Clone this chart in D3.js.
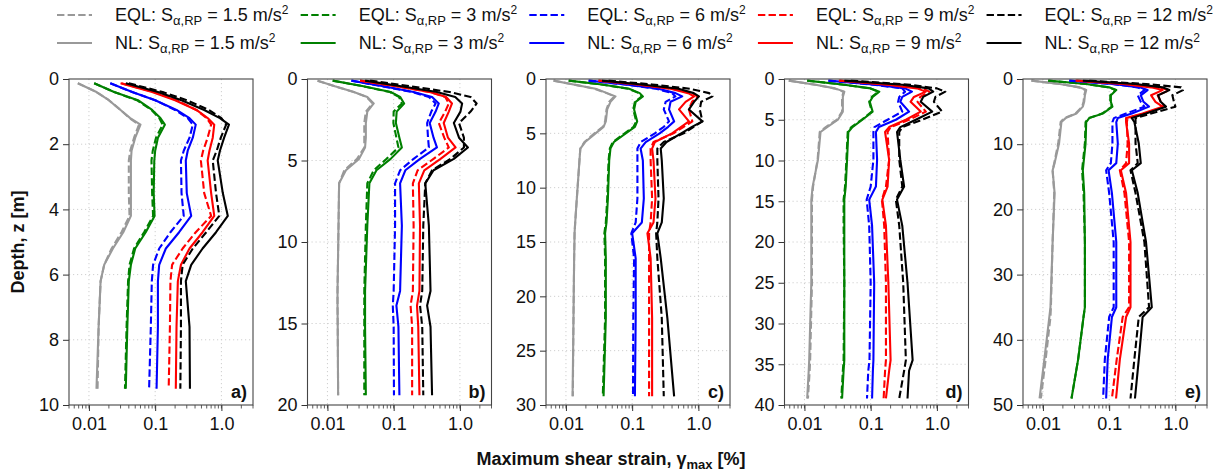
<!DOCTYPE html>
<html>
<head>
<meta charset="utf-8">
<script src="https://cdn.jsdelivr.net/npm/d3@7"></script>
<style>
  body { margin: 0; background: #fff; }
  text { font-family: "Liberation Sans", Arial, sans-serif; fill: #111; }
</style>
</head>
<body>
<svg id="chart" width="1222" height="473"></svg>
<script>
// ---- Series definitions ----
const intensities = ["1.5", "3", "6", "9", "12"];
const seriesColors = ["#999999", "#008000", "#0000ff", "#ff0000", "#000000"];

// ---- Panel definitions ----
const panelLabels = ["a)", "b)", "c)", "d)", "e)"];
const depthMax = [10, 20, 30, 40, 50];
const depthTicks = [
  [0, 2, 4, 6, 8, 10],
  [0, 5, 10, 15, 20],
  [0, 5, 10, 15, 20, 25, 30],
  [0, 5, 10, 15, 20, 25, 30, 35, 40],
  [0, 10, 20, 30, 40, 50]
];
const strainTicks = [0.01, 0.1, 1.0];
const strainTickLabels = ["0.01", "0.1", "1.0"];
const strainDomain = [0.005, 3];

// ---- Panel a) : depth [m] and max shear strain [%] (rows: 1.5, 3, 6, 9, 12 m/s2) ----
const depthA = [0.13, 0.4, 0.65, 0.95, 1.2, 1.4, 1.8, 2.2, 2.5, 3.5, 4.2, 4.7, 5.2, 5.7, 6.2, 7.6, 9.5];
const eqlA = [
  [0.0068, 0.013, 0.02, 0.03, 0.041, 0.057, 0.048, 0.042, 0.04, 0.04, 0.041, 0.031, 0.022, 0.017, 0.015, 0.014, 0.0135],
  [0.012, 0.024, 0.053, 0.088, 0.115, 0.13, 0.103, 0.092, 0.088, 0.09, 0.093, 0.068, 0.048, 0.041, 0.039, 0.037, 0.035],
  [0.021, 0.045, 0.1, 0.2, 0.31, 0.37, 0.33, 0.27, 0.245, 0.25, 0.27, 0.17, 0.115, 0.093, 0.089, 0.086, 0.081],
  [0.031, 0.095, 0.21, 0.42, 0.6, 0.7, 0.62, 0.53, 0.49, 0.55, 0.7, 0.41, 0.26, 0.18, 0.17, 0.167, 0.16],
  [0.04, 0.13, 0.3, 0.65, 1.0, 1.18, 0.98, 0.85, 0.74, 0.83, 0.93, 0.59, 0.37, 0.26, 0.245, 0.245, 0.24]
];
const nlA = [
  [0.0068, 0.013, 0.02, 0.03, 0.042, 0.06, 0.05, 0.044, 0.043, 0.043, 0.043, 0.033, 0.023, 0.017, 0.015, 0.014, 0.013],
  [0.012, 0.024, 0.055, 0.09, 0.12, 0.14, 0.11, 0.1, 0.097, 0.095, 0.098, 0.072, 0.05, 0.043, 0.04, 0.038, 0.036],
  [0.021, 0.045, 0.1, 0.21, 0.33, 0.41, 0.37, 0.31, 0.29, 0.3, 0.35, 0.23, 0.145, 0.115, 0.11, 0.11, 0.105],
  [0.03, 0.09, 0.2, 0.42, 0.62, 0.78, 0.74, 0.66, 0.62, 0.7, 0.78, 0.52, 0.33, 0.245, 0.22, 0.21, 0.205],
  [0.036, 0.11, 0.25, 0.55, 0.95, 1.3, 1.1, 0.95, 0.88, 1.05, 1.25, 0.83, 0.52, 0.35, 0.29, 0.33, 0.335]
];

// ---- Panel b) ----
const depthB = [0.1, 0.45, 0.8, 1.1, 1.5, 2.0, 2.7, 3.6, 4.2, 4.9, 5.6, 6.4, 9, 13, 13.9, 15.2, 19.4];
const eqlB = [
  [0.0071, 0.013, 0.025, 0.039, 0.048, 0.038, 0.036, 0.036, 0.036, 0.028, 0.018, 0.015, 0.0147, 0.0142, 0.0142, 0.0143, 0.0145],
  [0.012, 0.035, 0.088, 0.12, 0.133, 0.1, 0.099, 0.11, 0.118, 0.078, 0.05, 0.04, 0.038, 0.036, 0.036, 0.036, 0.036],
  [0.023, 0.068, 0.19, 0.34, 0.43, 0.37, 0.32, 0.33, 0.34, 0.2, 0.125, 0.105, 0.105, 0.1, 0.097, 0.1, 0.101],
  [0.031, 0.11, 0.35, 0.6, 0.68, 0.6, 0.48, 0.58, 0.68, 0.4, 0.23, 0.195, 0.2, 0.195, 0.18, 0.19, 0.19],
  [0.044, 0.18, 0.7, 1.45, 1.79, 1.45, 0.97, 1.15, 1.15, 0.72, 0.38, 0.3, 0.28, 0.27, 0.25, 0.27, 0.28]
];
const nlB = [
  [0.0071, 0.013, 0.025, 0.04, 0.05, 0.04, 0.038, 0.038, 0.037, 0.03, 0.019, 0.015, 0.0147, 0.0142, 0.0142, 0.0143, 0.0145],
  [0.012, 0.035, 0.09, 0.125, 0.144, 0.111, 0.108, 0.122, 0.133, 0.09, 0.055, 0.043, 0.04, 0.037, 0.037, 0.037, 0.038],
  [0.023, 0.07, 0.2, 0.38, 0.48, 0.43, 0.35, 0.4, 0.45, 0.25, 0.15, 0.125, 0.133, 0.125, 0.11, 0.118, 0.122],
  [0.031, 0.11, 0.35, 0.62, 0.76, 0.68, 0.57, 0.66, 0.86, 0.51, 0.29, 0.24, 0.25, 0.245, 0.225, 0.235, 0.245],
  [0.037, 0.13, 0.45, 0.85, 1.08, 1.02, 0.81, 0.97, 1.32, 0.81, 0.4, 0.3, 0.34, 0.36, 0.32, 0.36, 0.38]
];

// ---- Panel c) ----
const depthC = [0.15, 0.5, 0.9, 1.3, 1.6, 2.1, 2.8, 3.9, 4.4, 5.0, 5.8, 6.4, 7.5, 11, 13.2, 14.2, 16.5, 22, 29.2];
const eqlC = [
  [0.0065, 0.013, 0.027, 0.041, 0.054, 0.045, 0.041, 0.039, 0.036, 0.027, 0.019, 0.0165, 0.016, 0.0146, 0.0138, 0.0135, 0.0133, 0.013, 0.0127],
  [0.011, 0.034, 0.088, 0.126, 0.14, 0.11, 0.104, 0.115, 0.105, 0.077, 0.051, 0.046, 0.044, 0.042, 0.04, 0.038, 0.039, 0.039, 0.036],
  [0.022, 0.078, 0.23, 0.4, 0.45, 0.32, 0.3, 0.36, 0.3, 0.22, 0.135, 0.12, 0.12, 0.12, 0.113, 0.097, 0.107, 0.104, 0.103],
  [0.031, 0.12, 0.4, 0.8, 0.97, 0.8, 0.72, 0.81, 0.6, 0.42, 0.21, 0.19, 0.19, 0.2, 0.19, 0.18, 0.18, 0.18, 0.18],
  [0.044, 0.2, 0.75, 1.45, 1.63, 1.1, 1.05, 1.15, 0.85, 0.6, 0.3, 0.24, 0.24, 0.25, 0.24, 0.23, 0.24, 0.28, 0.3]
];
const nlC = [
  [0.0065, 0.013, 0.028, 0.042, 0.056, 0.047, 0.042, 0.04, 0.037, 0.028, 0.0195, 0.0165, 0.016, 0.0146, 0.0138, 0.0135, 0.0133, 0.013, 0.0126],
  [0.011, 0.035, 0.09, 0.13, 0.145, 0.113, 0.107, 0.119, 0.11, 0.08, 0.053, 0.047, 0.045, 0.043, 0.041, 0.039, 0.04, 0.04, 0.037],
  [0.022, 0.08, 0.25, 0.45, 0.57, 0.38, 0.36, 0.43, 0.35, 0.26, 0.16, 0.134, 0.145, 0.15, 0.14, 0.1, 0.113, 0.113, 0.11],
  [0.031, 0.12, 0.38, 0.7, 0.86, 0.64, 0.51, 0.72, 0.55, 0.4, 0.22, 0.2, 0.21, 0.225, 0.21, 0.17, 0.19, 0.2, 0.2],
  [0.035, 0.14, 0.5, 0.85, 1.02, 0.86, 0.72, 1.15, 0.8, 0.55, 0.33, 0.27, 0.28, 0.3, 0.28, 0.24, 0.27, 0.34, 0.43]
];

// ---- Panel d) ----
const depthD = [0.2, 0.7, 1.15, 1.55, 2.2, 2.8, 4.0, 5.0, 5.9, 6.5, 9.9, 13.2, 14.8, 18, 25, 34.5, 35.8, 39.2];
const eqlD = [
  [0.0058, 0.0145, 0.028, 0.039, 0.037, 0.037, 0.037, 0.031, 0.021, 0.017, 0.0158, 0.0135, 0.013, 0.013, 0.013, 0.0122, 0.012, 0.0113],
  [0.011, 0.039, 0.098, 0.13, 0.104, 0.095, 0.104, 0.073, 0.051, 0.045, 0.043, 0.041, 0.039, 0.039, 0.04, 0.039, 0.038, 0.036],
  [0.023, 0.11, 0.3, 0.33, 0.27, 0.26, 0.3, 0.18, 0.114, 0.11, 0.11, 0.1, 0.087, 0.095, 0.1, 0.096, 0.092, 0.088],
  [0.034, 0.2, 0.6, 0.77, 0.56, 0.51, 0.68, 0.38, 0.2, 0.18, 0.19, 0.17, 0.148, 0.16, 0.17, 0.17, 0.165, 0.157],
  [0.05, 0.4, 1.0, 1.34, 0.95, 0.9, 1.2, 0.6, 0.3, 0.27, 0.27, 0.3, 0.24, 0.27, 0.31, 0.34, 0.32, 0.27]
];
const nlD = [
  [0.0058, 0.0147, 0.029, 0.04, 0.038, 0.038, 0.038, 0.032, 0.022, 0.0175, 0.016, 0.0133, 0.0127, 0.0127, 0.0127, 0.0118, 0.0116, 0.011],
  [0.011, 0.04, 0.1, 0.135, 0.107, 0.097, 0.107, 0.075, 0.053, 0.046, 0.044, 0.042, 0.04, 0.04, 0.04, 0.04, 0.039, 0.037],
  [0.023, 0.12, 0.33, 0.42, 0.3, 0.28, 0.38, 0.24, 0.133, 0.12, 0.125, 0.12, 0.095, 0.105, 0.113, 0.11, 0.108, 0.105],
  [0.033, 0.18, 0.5, 0.68, 0.45, 0.4, 0.57, 0.34, 0.19, 0.165, 0.19, 0.18, 0.15, 0.17, 0.185, 0.2, 0.19, 0.17],
  [0.04, 0.3, 0.75, 0.88, 0.62, 0.57, 0.85, 0.48, 0.28, 0.25, 0.28, 0.32, 0.25, 0.3, 0.36, 0.43, 0.38, 0.36]
];

// ---- Panel e) ----
const depthE = [0.25, 0.77, 1.28, 1.7, 2.5, 3.5, 4.24, 5.3, 6.0, 6.6, 9.9, 12.9, 14, 17.5, 25, 35, 36.5, 43, 49];
const eqlE = [
  [0.0067, 0.018, 0.035, 0.044, 0.042, 0.041, 0.039, 0.031, 0.021, 0.0185, 0.017, 0.0148, 0.014, 0.0148, 0.014, 0.0132, 0.013, 0.011, 0.0093],
  [0.012, 0.044, 0.098, 0.125, 0.104, 0.104, 0.11, 0.078, 0.049, 0.044, 0.043, 0.04, 0.039, 0.041, 0.043, 0.043, 0.041, 0.034, 0.027],
  [0.025, 0.11, 0.27, 0.34, 0.27, 0.3, 0.34, 0.18, 0.118, 0.112, 0.112, 0.106, 0.09, 0.1, 0.117, 0.117, 0.1, 0.086, 0.081],
  [0.032, 0.18, 0.55, 0.81, 0.54, 0.6, 0.68, 0.34, 0.19, 0.185, 0.19, 0.18, 0.145, 0.17, 0.2, 0.2, 0.16, 0.13, 0.11],
  [0.05, 0.36, 1.22, 1.3, 0.9, 0.95, 1.0, 0.43, 0.25, 0.25, 0.25, 0.27, 0.21, 0.25, 0.34, 0.4, 0.28, 0.24, 0.21]
];
const nlE = [
  [0.0067, 0.018, 0.036, 0.045, 0.043, 0.042, 0.04, 0.032, 0.022, 0.019, 0.0175, 0.015, 0.014, 0.015, 0.014, 0.013, 0.0125, 0.0105, 0.0089],
  [0.012, 0.045, 0.1, 0.128, 0.106, 0.106, 0.112, 0.08, 0.05, 0.045, 0.044, 0.041, 0.04, 0.042, 0.043, 0.043, 0.041, 0.034, 0.027],
  [0.025, 0.115, 0.29, 0.38, 0.3, 0.33, 0.4, 0.22, 0.135, 0.128, 0.135, 0.128, 0.098, 0.11, 0.128, 0.128, 0.11, 0.095, 0.09],
  [0.031, 0.16, 0.43, 0.64, 0.43, 0.5, 0.64, 0.32, 0.18, 0.18, 0.2, 0.2, 0.15, 0.18, 0.21, 0.21, 0.18, 0.145, 0.127],
  [0.04, 0.25, 0.64, 0.81, 0.55, 0.6, 0.72, 0.36, 0.22, 0.24, 0.28, 0.3, 0.22, 0.27, 0.36, 0.44, 0.32, 0.28, 0.245]
];

const panels = [
  { depth: depthA, eql: eqlA, nl: nlA },
  { depth: depthB, eql: eqlB, nl: nlB },
  { depth: depthC, eql: eqlC, nl: nlC },
  { depth: depthD, eql: eqlD, nl: nlD },
  { depth: depthE, eql: eqlE, nl: nlE }
];

// ---- Layout ----
const svg = d3.select("#chart");
const plotTop = 79, plotBottom = 405, plotW = 184, firstLeft = 69, panelStep = 238.5;
const dashPattern = "7.4,3.2";
const lineW = 2.1;
const axisColor = "#333";
const fontFamily = '"Liberation Sans", Arial, sans-serif';
const tickFont = 18;

const minorTicks = [];
for (let e = -3; e <= 0; e++) for (let m = 1; m <= 9; m++) {
  const v = m * Math.pow(10, e);
  if (v >= strainDomain[0] - 1e-9 && v <= strainDomain[1] + 1e-9) minorTicks.push(v);
}

panels.forEach((p, i) => {
  const left = firstLeft + i * panelStep;
  const x = d3.scaleLog().domain(strainDomain).range([left, left + plotW]);
  const y = d3.scaleLinear().domain([0, depthMax[i]]).range([plotTop, plotBottom]);
  const g = svg.append("g");

  // dotted grid at major ticks
  g.append("g").selectAll("line").data(strainTicks).join("line")
    .attr("x1", d => x(d)).attr("x2", d => x(d))
    .attr("y1", plotTop).attr("y2", plotBottom)
    .attr("stroke", "#cfcfcf").attr("stroke-width", 1).attr("stroke-dasharray", "1.2,2.8");
  g.append("g").selectAll("line").data(depthTicks[i].slice(1, -1)).join("line")
    .attr("x1", left).attr("x2", left + plotW)
    .attr("y1", d => y(d)).attr("y2", d => y(d))
    .attr("stroke", "#cfcfcf").attr("stroke-width", 1).attr("stroke-dasharray", "1.2,2.8");

  // profiles
  const clipId = "clip" + i;
  svg.append("clipPath").attr("id", clipId).append("rect")
    .attr("x", left).attr("y", plotTop).attr("width", plotW).attr("height", plotBottom - plotTop);
  const line = d3.line().x(d => x(d.v)).y(d => y(d.z));
  const lg = g.append("g").attr("clip-path", `url(#${clipId})`);
  seriesColors.forEach((c, k) => {
    const eqlPts = p.depth.map((z, j) => ({ z, v: p.eql[k][j] }));
    const nlPts = p.depth.map((z, j) => ({ z, v: p.nl[k][j] }));
    lg.append("path").datum(eqlPts).attr("d", line)
      .attr("fill", "none").attr("stroke", c).attr("stroke-width", lineW)
      .attr("stroke-dasharray", dashPattern).attr("stroke-linejoin", "round");
    lg.append("path").datum(nlPts).attr("d", line)
      .attr("fill", "none").attr("stroke", c).attr("stroke-width", lineW)
      .attr("stroke-linejoin", "round");
  });

  // x axis (bottom)
  const xAxis = d3.axisBottom(x).tickValues(strainTicks)
    .tickFormat((d, j) => strainTickLabels[j]).tickSize(6).tickPadding(6);
  const xa = g.append("g").attr("transform", `translate(0,${plotBottom})`).call(xAxis);
  xa.select(".domain").remove();
  xa.selectAll("line").attr("stroke", axisColor);
  xa.selectAll("text").attr("font-size", tickFont).attr("fill", "#111").style("font-family", fontFamily);
  g.append("g").selectAll("line").data(minorTicks).join("line")
    .attr("x1", d => x(d)).attr("x2", d => x(d))
    .attr("y1", plotBottom).attr("y2", plotBottom + 3.5)
    .attr("stroke", axisColor).attr("stroke-width", 0.8);

  // y axis (left)
  const yAxis = d3.axisLeft(y).tickValues(depthTicks[i]).tickFormat(d3.format("d"))
    .tickSize(6).tickPadding(4);
  const ya = g.append("g").attr("transform", `translate(${left},0)`).call(yAxis);
  ya.select(".domain").remove();
  ya.selectAll("line").attr("stroke", axisColor);
  ya.selectAll("text").attr("font-size", tickFont).attr("fill", "#111").style("font-family", fontFamily);

  // frame
  g.append("rect").attr("x", left).attr("y", plotTop)
    .attr("width", plotW).attr("height", plotBottom - plotTop)
    .attr("fill", "none").attr("stroke", "#444").attr("stroke-width", 1.1);

  // panel tag
  g.append("text").attr("x", left + plotW - 6).attr("y", plotBottom - 7)
    .attr("text-anchor", "end").attr("font-size", 18).attr("font-weight", "bold")
    .text(panelLabels[i]);
});

// ---- Axis titles ----
svg.append("text")
  .attr("transform", `translate(24,${(plotTop + plotBottom) / 2}) rotate(-90)`)
  .attr("text-anchor", "middle").attr("font-size", 18).attr("font-weight", "bold")
  .text("Depth, z [m]");

const xTitle = svg.append("text").attr("x", 611).attr("y", 465)
  .attr("text-anchor", "middle").attr("font-size", 18).attr("font-weight", "bold");
xTitle.append("tspan").text("Maximum shear strain, γ");
xTitle.append("tspan").attr("dy", 4).attr("font-size", 13).text("max");
xTitle.append("tspan").attr("dy", -4).text(" [%]");

// ---- Legend (two rows, five columns spread between legendLeft and legendRight) ----
const legendLeft = 57, legendRight = 1213, handleLen = 35, handlePad = 23;
const legendRows = [{ y: 15, name: "EQL", dash: dashPattern }, { y: 43, name: "NL", dash: null }];
const legend = svg.append("g");
const colWidths = [];
const entries = intensities.map((s, k) => {
  const items = legendRows.map(r => {
    const ln = legend.append("line")
      .attr("y1", r.y).attr("y2", r.y)
      .attr("stroke", seriesColors[k]).attr("stroke-width", lineW)
      .attr("stroke-dasharray", r.dash);
    const t = legend.append("text").attr("y", r.y + 6).attr("font-size", 18);
    t.append("tspan").text(`${r.name}: S`);
    t.append("tspan").attr("dy", 4).attr("font-size", 13).text("α,RP");
    t.append("tspan").attr("dy", -4).text(` = ${s} m/s`);
    t.append("tspan").attr("dy", -7).attr("font-size", 12).text("2");
    return { ln, t };
  });
  colWidths.push(handleLen + handlePad + d3.max(items, it => it.t.node().getComputedTextLength()));
  return items;
});
const colGap = (legendRight - legendLeft - d3.sum(colWidths)) / (intensities.length - 1);
let cx = legendLeft;
entries.forEach((items, k) => {
  items.forEach(it => {
    it.ln.attr("x1", cx).attr("x2", cx + handleLen);
    it.t.attr("x", cx + handleLen + handlePad);
  });
  cx += colWidths[k] + colGap;
});
</script>
</body>
</html>
